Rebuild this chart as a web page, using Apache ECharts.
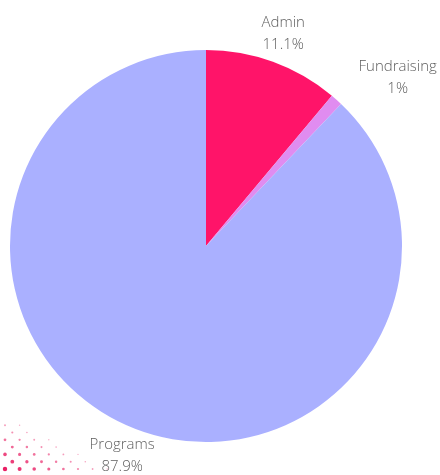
<!DOCTYPE html>
<html><head><meta charset="utf-8">
<script src="https://cdn.jsdelivr.net/npm/echarts@6/dist/echarts.min.js"></script>
<style>html,body{margin:0;padding:0;background:#fff}#c{width:440px;height:475px}</style>
</head><body><div id="c"></div>
<script>
const categories = ['Admin', 'Fundraising', 'Programs'];
const values = [11.1, 1, 87.9];
const colors = ['#FF1469', '#E08CF0', '#AAB0FF'];
const labelAligns = ['center', 'left', 'center'];

const CX = 206, CY = 246, R = 196, LABEL_R = 226;
const total = values.reduce((a, b) => a + b, 0);

// decorative halftone dots (bottom-left)
const dots = [];
for (let j = 0; j < 9; j++) {
  for (let i = 0; i < 18; i++) {
    if ((i + j) % 2) continue;
    const x = 5 + i * 7.3, y = 469 - j * 7.3;
    const f = 1 - (x / 112 + (469 - y) / 58);
    if (f <= 0.04) continue;
    dots.push({
      type: 'circle', silent: true,
      shape: { cx: x, cy: y, r: 0.6 + 1.7 * f },
      style: { fill: '#E8185F', opacity: 0.3 + 0.7 * f }
    });
  }
}

const chart = echarts.init(document.getElementById('c'));
chart.setOption({
  animation: false,
  graphic: dots,
  series: [{
    type: 'pie',
    center: [CX, CY],
    radius: [0, R],
    startAngle: 90,
    clockwise: true,
    data: categories.map((n, i) => ({ name: n, value: values[i], itemStyle: { color: colors[i] } })),
    label: {
      show: true,
      position: 'outside',
      formatter: p => p.name + '\n' + p.value + '%',
      fontFamily: 'Open Sans',
      fontSize: 15,
      fontWeight: 300,
      lineHeight: 22,
      color: '#606060',
      align: 'center',
      overflow: 'none'
    },
    labelLine: { show: false },
    labelLayout: function (params) {
      const i = params.dataIndex;
      let cum = 0;
      for (let k = 0; k < i; k++) cum += values[k];
      const mid = (cum + values[i] / 2) / total * Math.PI * 2;
      let ax = CX + LABEL_R * Math.sin(mid);
      const ay = CY - LABEL_R * Math.cos(mid);
      if (labelAligns[i] === 'left') ax += 2 + params.labelRect.width / 2;
      return { x: ax, y: ay, align: 'center', verticalAlign: 'middle' };
    },
    emphasis: { disabled: true }
  }]
});
</script></body></html>
